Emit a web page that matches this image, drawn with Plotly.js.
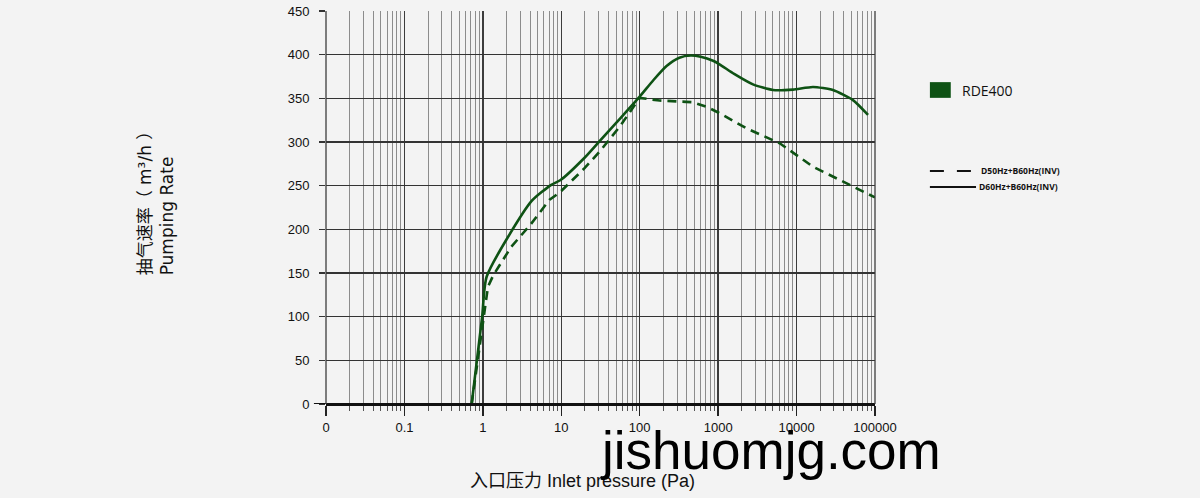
<!DOCTYPE html>
<html>
<head>
<meta charset="utf-8">
<script src="https://cdn.plot.ly/plotly-3.0.1.min.js"></script>
<style>
html,body{margin:0;padding:0;background:#f3f3f3;}
#chart{width:1200px;height:498px;}
</style>
</head>
<body>
<div id="chart"></div>
<script>
// Pressure (Pa) and pumping rate (m3/h)
const xSolid = [0.72, 0.98, 1.12, 4.14, 7.45, 9.8, 19.8, 30.8, 55, 100, 150, 220, 320, 450, 600, 860, 1040, 1600, 2780, 5000, 9000, 16200, 29100, 52400, 81500];
const ySolid = [0, 100, 146, 232, 251, 256.5, 282, 301, 326, 352, 371, 387, 396.5, 399, 397.5, 393, 389, 378, 366, 359.5, 360, 363, 359.5, 348, 331];

const xDash = [0.72, 1.03, 1.16, 1.35, 2.3, 4.1, 7.1, 9.5, 19.8, 30.8, 55.5, 100, 179, 390, 477, 710, 1040, 2290, 6100, 16200, 43100, 100000];
const yDash = [0, 100, 134, 147, 180, 206, 234, 242, 270, 289, 317.5, 350.5, 347.5, 346, 345.5, 340.4, 333, 315.7, 298.5, 271.7, 252.7, 236.5];

const xTickVals = [0.01, 0.1, 1, 10, 100, 1000, 10000, 100000];
const xTickText = ['0', '0.1', '1', '10', '100', '1000', '10000', '100000'];

const seriesName = 'RDE400';
const nameDash = 'D50Hz+B60Hz(INV)';
const nameSolid = 'D60Hz+B60Hz(INV)';

const green = '#0e5214';

const traces = [
  {x: xDash, y: yDash, type: 'scatter', mode: 'lines', name: nameDash,
   line: {color: green, width: 2.6, dash: '9px,6px'}, hoverinfo: 'skip'},
  {x: xSolid, y: ySolid, type: 'scatter', mode: 'lines', name: nameSolid,
   line: {color: green, width: 2.6, shape: 'spline', smoothing: 0.6}, hoverinfo: 'skip'}
];

const layout = {
  width: 1200, height: 498,
  margin: {l: 326, r: 325, t: 11, b: 94},
  paper_bgcolor: '#f3f3f3', plot_bgcolor: '#f3f3f3',
  showlegend: false,
  font: {family: 'Liberation Sans, Arial, sans-serif', size: 13, color: '#111'},
  xaxis: {
    type: 'log', range: [-2, 5],
    tickmode: 'array', tickvals: xTickVals, ticktext: xTickText,
    ticks: 'outside', ticklen: 10, tickcolor: '#222', tickwidth: 1.3,
    showgrid: true, gridcolor: '#3c3c3c', gridwidth: 1.3,
    showline: true, linecolor: '#111', linewidth: 2,
    zeroline: false,
    tickfont: {size: 13, family: 'Liberation Sans, Arial, sans-serif', color: '#111'},
    minor: {dtick: 'D1', ticks: 'outside', ticklen: 5, tickcolor: '#555', tickwidth: 1,
            showgrid: true, gridcolor: '#8c8c8c', gridwidth: 1}
  },
  yaxis: {
    range: [0, 450], dtick: 50, tick0: 0,
    ticks: 'outside', ticklen: 6, tickcolor: '#333', tickwidth: 1.3,
    showgrid: true, gridcolor: '#333', gridwidth: 1.3,
    showline: false, zeroline: false,
    ticklabelstandoff: 7,
    tickfont: {size: 13, family: 'Liberation Sans, Arial, sans-serif', color: '#111'}
  },
  shapes: [
    {type: 'line', xref: 'paper', yref: 'y', x0: -0.022, x1: 1, y0: 0, y1: 0,
     line: {color: '#111', width: 2}},
    {type: 'line', xref: 'paper', yref: 'paper', x0: 0, x1: 0, y0: 0, y1: 1,
     line: {color: '#3c3c3c', width: 1.3}},
    {type: 'line', xref: 'paper', yref: 'paper', x0: 1, x1: 1, y0: 0, y1: 1,
     line: {color: '#3c3c3c', width: 1.3}},
    {type: 'rect', xref: 'paper', yref: 'paper', x0: 1.100, x1: 1.138, y0: 0.779, y1: 0.819,
     fillcolor: green, line: {width: 0}},
    {type: 'line', xref: 'paper', yref: 'paper', x0: 1.100, x1: 1.175, y0: 0.593, y1: 0.593,
     line: {color: '#111', width: 2, dash: '14px,13px'}},
    {type: 'line', xref: 'paper', yref: 'paper', x0: 1.100, x1: 1.184, y0: 0.552, y1: 0.552,
     line: {color: '#111', width: 2}}
  ],
  annotations: [
    {xref: 'paper', yref: 'paper', x: 1.155, y: 0.797, xanchor: 'left', yanchor: 'middle',
     text: seriesName, showarrow: false, font: {family: 'Open Sans, sans-serif', size: 14, color: '#111'}},
    {xref: 'paper', yref: 'paper', x: 1.190, y: 0.595, xanchor: 'left', yanchor: 'middle',
     text: '<b>' + nameDash + '</b>', showarrow: false, font: {family: 'Open Sans, sans-serif', size: 8.5, color: '#111'}},
    {xref: 'paper', yref: 'paper', x: 1.186, y: 0.554, xanchor: 'left', yanchor: 'middle',
     text: '<b>' + nameSolid + '</b>', showarrow: false, font: {family: 'Open Sans, sans-serif', size: 8.5, color: '#111'}},
    {xref: 'paper', yref: 'paper', x: 0.468, y: -0.197, xanchor: 'center', yanchor: 'middle',
     text: '入口压力 Inlet pressure (Pa)', showarrow: false,
     font: {family: 'Liberation Sans, Noto Sans CJK SC, sans-serif', size: 18, color: '#111'}},
    {xref: 'paper', yref: 'paper', x: -0.310, y: 0.323, xanchor: 'center', yanchor: 'bottom',
     text: '抽气速率（ m³/h ）<br>Pumping Rate', align: 'left', textangle: -90, showarrow: false,
     font: {family: 'DejaVu Sans, Noto Sans CJK SC, sans-serif', size: 17, color: '#111'}},
    {xref: 'paper', yref: 'paper', x: 0.809, y: -0.118, xanchor: 'center', yanchor: 'middle',
     text: 'jishuomjg.com', showarrow: false,
     font: {family: 'Liberation Sans, Arial, sans-serif', size: 53, color: '#000'}}
  ]
};

Plotly.newPlot('chart', traces, layout, {staticPlot: true, displayModeBar: false});
</script>
</body>
</html>
